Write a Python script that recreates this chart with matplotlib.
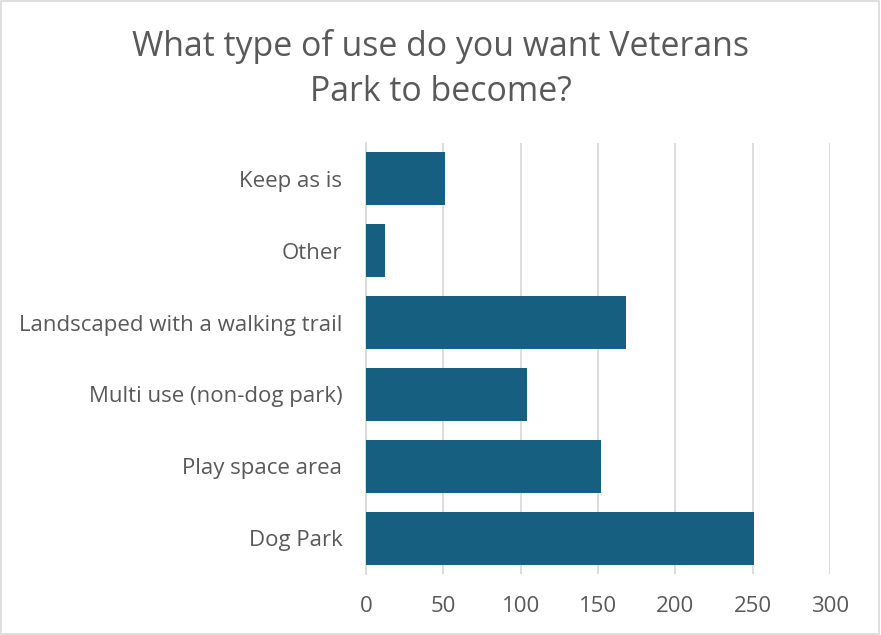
import matplotlib
matplotlib.use("Agg")
import matplotlib.pyplot as plt
from matplotlib.patches import Rectangle

# Survey responses
categories = ["Dog Park", "Play space area", "Multi use (non-dog park)",
              "Landscaped with a walking trail", "Other", "Keep as is"]
counts = [251, 152, 104, 168, 12, 51]
xticks = [0, 50, 100, 150, 200, 250, 300]

BAR_COLOR = "#175F80"
TEXT_COLOR = "#595959"
GRID_COLOR = "#D9D9D9"

plt.rcParams["font.family"] = ["Open Sans", "DejaVu Sans"]

fig = plt.figure(figsize=(8.81, 6.35), dpi=100)
ax = fig.add_axes([366 / 881, 1 - 574 / 635, (830 - 366) / 881, (574 - 143) / 635])

ax.barh(range(len(categories)), counts, height=0.74, color=BAR_COLOR, zorder=3)

ax.set_xlim(0, 300)
ax.set_ylim(-0.5, len(categories) - 0.5)
ax.set_xticks(xticks)
ax.set_yticks(range(len(categories)))
ax.set_yticklabels(categories)
ax.tick_params(axis="both", length=0, colors=TEXT_COLOR, labelsize=16)
ax.tick_params(axis="x", pad=15.5)
ax.tick_params(axis="y", pad=17)
ax.xaxis.grid(True, color=GRID_COLOR, lw=1.3, zorder=0)
for side in ["top", "right", "bottom"]:
    ax.spines[side].set_visible(False)
ax.spines["left"].set_color(GRID_COLOR)
ax.spines["left"].set_linewidth(1.3)

fig.text(0.5, 1 - 69 / 635, "What type of use do you want Veterans\nPark to become?",
         ha="center", va="center", fontsize=24.4, color=TEXT_COLOR, linespacing=1.42)

# light frame around the chart area
fig.patches.append(Rectangle((0.001, 0.001), 0.997, 0.997, transform=fig.transFigure,
                             fill=False, edgecolor="#D9D9D9", lw=1.2))

fig.savefig("out.png", dpi=100)
